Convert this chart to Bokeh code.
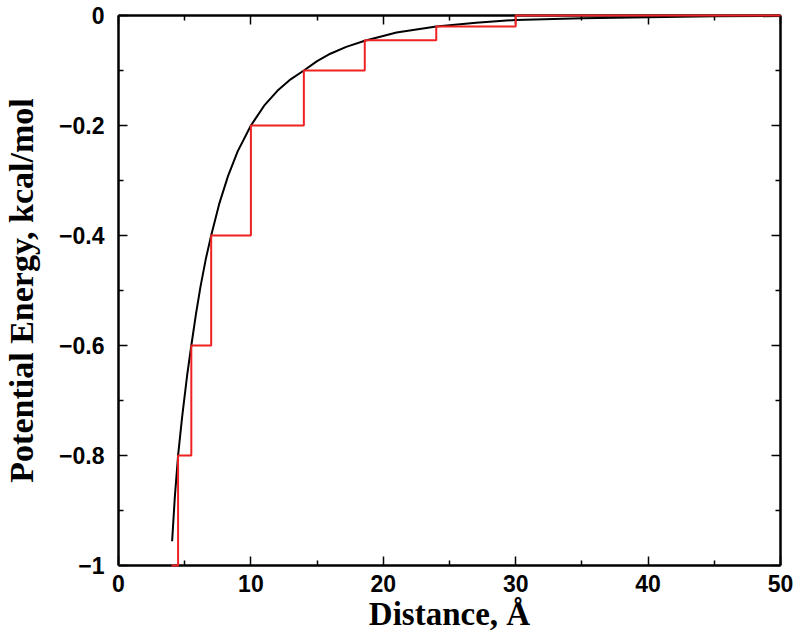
from bokeh.plotting import figure
from bokeh.models import Range1d, LinearAxis, FixedTicker, CustomLabelingPolicy
from bokeh.embed import file_html
from bokeh.resources import INLINE

# Black curve: potential energy
curve_x = [4.05, 4.25, 4.5, 4.8, 5.18, 5.5, 5.85, 6.2, 6.6, 7.0, 7.6, 8.27, 9.0, 10.0,
           11.0, 12.0, 13.0, 14.0, 15.0, 16.0, 17.2, 18.6, 21.0, 24.0, 27.0, 30.0, 35.0, 40.0, 45.0, 50.0]
curve_y = [-0.956, -0.877, -0.80, -0.731, -0.655, -0.60, -0.543, -0.492, -0.442, -0.40, -0.343, -0.292,
           -0.247, -0.20, -0.164, -0.137, -0.116, -0.10, -0.083, -0.0695, -0.057, -0.046, -0.031, -0.020,
           -0.013, -0.008, -0.005, -0.003, -0.0015, -0.001]

# Red stepped approximation
step_x = [4.0, 4.5, 5.5, 7.0, 10.0, 14.0, 18.6, 24.0, 30.0, 50.0]
step_y = [-1.0, -0.8, -0.6, -0.4, -0.2, -0.1, -0.045, -0.02, 0.0, 0.0]

x_ticks = [0, 10, 20, 30, 40, 50]
x_minor = [5, 15, 25, 35, 45]
y_ticks = [-1.0, -0.8, -0.6, -0.4, -0.2, 0.0]
y_minor = [-0.9, -0.7, -0.5, -0.3, -0.1]
y_tick_labels = ["\u22121", "\u22120.8", "\u22120.6", "\u22120.4", "\u22120.2", "0"]
x_label = "Distance, \u00c5"
y_label = "Potential Energy, kcal/mol"

TICK_FONT = "Liberation Sans"
TITLE_FONT = "Liberation Serif"

p = figure(width=800, height=641,
           min_border_left=117, min_border_top=15, min_border_right=20, min_border_bottom=76,
           x_range=Range1d(0, 50), y_range=Range1d(-1, 0),
           output_backend="svg", toolbar_location=None,
           x_axis_location=None, y_axis_location=None)
p.grid.visible = False
p.outline_line_color = None
p.background_fill_color = "white"
p.border_fill_color = "white"

p.line(curve_x, curve_y, line_color="black", line_width=2)
p.step(step_x, step_y, mode="after", line_color="#ee2222", line_width=2, level="overlay")

no_labels = CustomLabelingPolicy(code="return new Set()")


def style(ax, labels=True):
    ax.axis_line_width = 2.5
    ax.axis_line_color = "black"
    ax.major_tick_in = 9
    ax.major_tick_out = 0
    ax.minor_tick_in = 5
    ax.minor_tick_out = 0
    ax.major_tick_line_width = 1.5
    ax.minor_tick_line_width = 1.5
    if labels:
        ax.major_label_text_font = TICK_FONT
        ax.major_label_text_font_style = "bold"
        ax.major_label_text_font_size = "23px"
        ax.major_label_text_color = "black"
        ax.axis_label_text_font = TITLE_FONT
        ax.axis_label_text_font_style = "bold"
        ax.axis_label_text_font_size = "33px"
        ax.axis_label_text_color = "black"
    else:
        ax.major_label_policy = no_labels
        ax.major_label_text_font_size = "0px"
        ax.major_label_standoff = 0


xt = FixedTicker(ticks=x_ticks, minor_ticks=x_minor)
yt = FixedTicker(ticks=y_ticks, minor_ticks=y_minor)

xb = LinearAxis(ticker=xt, axis_label=x_label)
style(xb)
xb.major_label_standoff = 9
xb.axis_label_standoff = 1
p.add_layout(xb, "below")

yl = LinearAxis(ticker=yt, axis_label=y_label)
style(yl)
yl.major_label_overrides = {t: s for t, s in zip(y_ticks, y_tick_labels)}
yl.major_label_standoff = 14
yl.axis_label_standoff = 16
yl.axis_label_text_font_size = "34px"
p.add_layout(yl, "left")

xa = LinearAxis(ticker=xt)
style(xa, labels=False)
p.add_layout(xa, "above")

yr = LinearAxis(ticker=yt)
style(yr, labels=False)
p.add_layout(yr, "right")

open("out.html", "w").write(file_html(p, INLINE))
